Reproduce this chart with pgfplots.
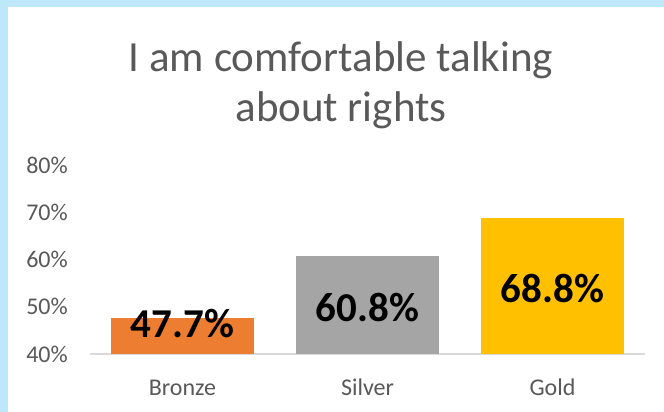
\documentclass[border=0pt]{standalone}
\usepackage{fontspec}
\setmainfont{Carlito}
\usepackage{pgfplots}
\pgfplotsset{compat=1.18}
\definecolor{bgblue}{HTML}{BEE7FA}
\definecolor{txtgray}{HTML}{595959}
\definecolor{linegray}{HTML}{D9D9D9}
\definecolor{bronze}{HTML}{ED7D31}
\definecolor{silver}{HTML}{A5A5A5}
\definecolor{gold}{HTML}{FFC000}
\begin{document}
\begin{tikzpicture}[x=1pt,y=1pt]
\fill[bgblue] (0,0) rectangle (664,412);
\fill[white] (8,0) rectangle (664,405);
\node[text=txtgray, font=\fontsize{43}{50}\selectfont, anchor=base, inner sep=0pt] at (341,340) {I am comfortable talking};
\node[text=txtgray, font=\fontsize{43}{50}\selectfont, anchor=base, inner sep=0pt] at (341,290) {about rights};
\begin{axis}[
  at={(90pt,58pt)}, anchor=south west,
  scale only axis, width=555pt, height=189pt,
  xmin=-0.5, xmax=2.5, ymin=40, ymax=80,
  ytick={40,50,60,70,80},
  yticklabels={40\%,50\%,60\%,70\%,80\%},
  xtick={0,1,2},
  xticklabels={Bronze,Silver,Gold},
  axis lines=left,
  axis line style={-},
  x axis line style={draw=linegray, line width=1.5pt},
  y axis line style={draw=none},
  major tick length=0pt,
  tick label style={font=\fontsize{24}{28}\selectfont, text=txtgray},
  yticklabel style={anchor=east, inner sep=0pt, xshift=-22pt},
  xticklabel style={anchor=base, inner sep=0pt, yshift=-41.7pt},
  ybar, bar width=143pt, bar shift=0pt,
  axis on top=false,
]
\addplot[fill=bronze, draw=none] coordinates {(0,47.7)};
\addplot[fill=silver, draw=none] coordinates {(1,60.8)};
\addplot[fill=gold, draw=none] coordinates {(2,68.8)};
\node[font=\bfseries\fontsize{41}{45}\selectfont, inner sep=0pt] at (axis cs:0,46.35) {47.7\%};
\node[font=\bfseries\fontsize{41}{45}\selectfont, inner sep=0pt] at (axis cs:1,49.84) {60.8\%};
\node[font=\bfseries\fontsize{41}{45}\selectfont, inner sep=0pt] at (axis cs:2,53.76) {68.8\%};
\end{axis}
\pgfresetboundingbox
\path[use as bounding box] (0,0) rectangle (664,412);
\end{tikzpicture}
\end{document}
